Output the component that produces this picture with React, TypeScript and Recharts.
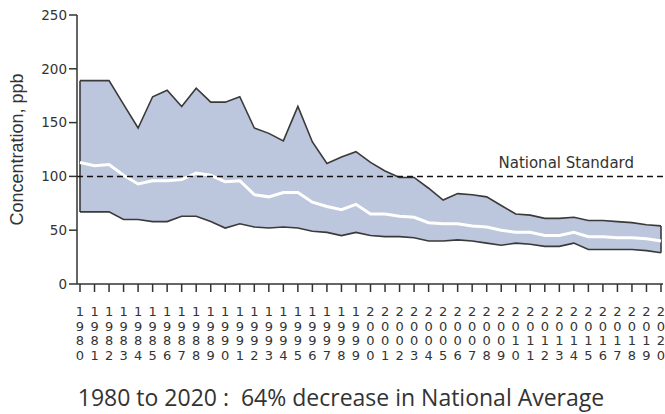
import {
  ComposedChart,
  Area,
  Line,
  XAxis,
  YAxis,
  ReferenceLine,
} from "recharts";

const years = [
  1980, 1981, 1982, 1983, 1984, 1985, 1986, 1987, 1988, 1989, 1990, 1991, 1992,
  1993, 1994, 1995, 1996, 1997, 1998, 1999, 2000, 2001, 2002, 2003, 2004, 2005,
  2006, 2007, 2008, 2009, 2010, 2011, 2012, 2013, 2014, 2015, 2016, 2017, 2018,
  2019, 2020,
];

// 90th percentile (top of band)
const high = [
  189, 189, 189, 167, 145, 174, 180, 165, 182, 169, 169, 174, 145, 140, 133, 165,
  132, 112, 118, 123, 113, 105, 99, 99, 89, 78, 84, 83, 81, 73, 65, 64, 61, 61,
  62, 59, 59, 58, 57, 55, 54,
];

// 10th percentile (bottom of band)
const low = [
  67, 67, 67, 60, 60, 58, 58, 63, 63, 58, 52, 56, 53, 52, 53, 52, 49, 48, 45, 48,
  45, 44, 44, 43, 40, 40, 41, 40, 38, 36, 38, 37, 35, 35, 38, 32, 32, 32, 32, 31,
  29,
];

// national average
const mean = [
  113, 110, 111, 101, 93, 96, 96, 97, 103, 101, 95, 96, 83, 81, 85, 85, 76, 72,
  69, 74, 65, 65, 63, 62, 57, 56, 56, 54, 53, 50, 48, 48, 45, 45, 48, 44, 44, 43,
  43, 42, 40,
];

const yTicks = [0, 50, 100, 150, 200, 250];
const standard = 100;

const data = years.map((year, i) => ({
  year,
  band: [low[i], high[i]],
  high: high[i],
  low: low[i],
  mean: mean[i],
}));

const TICK_FONT = "'DejaVu Sans', Verdana, sans-serif";

const YearTick = (props: any) => {
  const { x, y, payload } = props;
  const digits = String(payload.value).split("");
  return (
    <g>
      {digits.map((d, i) => (
        <text
          key={i}
          x={x}
          y={y + 22 + i * 14.7}
          textAnchor="middle"
          fontSize={13}
          fontFamily={TICK_FONT}
          fill="#333"
        >
          {d}
        </text>
      ))}
    </g>
  );
};

const StandardLabel = (props: any) => {
  const { viewBox } = props;
  return (
    <text
      x={viewBox.x + viewBox.width - 29}
      y={viewBox.y - 8}
      textAnchor="end"
      fontSize={15}
      fontFamily={TICK_FONT}
      fill="#333"
    >
      National Standard
    </text>
  );
};

export default function App() {
  const first = data[0];
  const last = data[data.length - 1];
  return (
    <div
      style={{
        position: "absolute",
        left: 0,
        top: 0,
        width: 665,
        height: 414,
        background: "#fff",
      }}
    >
      <ComposedChart
        width={665}
        height={380}
        data={data}
        margin={{ top: 15, right: 2, bottom: 0, left: 0 }}
      >
        <XAxis
          dataKey="year"
          type="number"
          domain={[1980, 2020]}
          ticks={years}
          interval={0}
          padding={{ left: 3, right: 2 }}
          tickSize={8}
          height={96}
          stroke="#333"
          tickLine={{ stroke: "#333", strokeWidth: 1.5 }}
          axisLine={{ stroke: "#333", strokeWidth: 1.5 }}
          tick={<YearTick />}
        />
        <XAxis
          xAxisId="top"
          orientation="top"
          dataKey="year"
          type="number"
          domain={[1980, 2020]}
          height={0}
          tick={false}
          tickLine={false}
          axisLine={{ stroke: "#555", strokeWidth: 1.2 }}
        />
        <YAxis
          domain={[0, 250]}
          ticks={yTicks}
          width={77}
          tickSize={8}
          tickMargin={2}
          stroke="#333"
          tickLine={{ stroke: "#333", strokeWidth: 1.5 }}
          axisLine={{ stroke: "#333", strokeWidth: 1.5 }}
          tick={{ fontSize: 13.5, fontFamily: TICK_FONT, fill: "#333" }}
          label={{
            value: "Concentration, ppb",
            angle: -90,
            position: "insideLeft",
            offset: 17,
            style: {
              fontSize: 18,
              fontFamily: "'Liberation Sans', Arial, sans-serif",
              fill: "#333",
              textAnchor: "middle",
            },
          }}
        />
        <YAxis
          yAxisId="right"
          orientation="right"
          domain={[0, 250]}
          width={0}
          tick={false}
          tickLine={false}
          axisLine={{ stroke: "#555", strokeWidth: 1.2 }}
        />
        <Area
          dataKey="band"
          type="linear"
          fill="#bcc6dc"
          fillOpacity={1}
          stroke="none"
          isAnimationActive={false}
        />
        <Line
          dataKey="high"
          type="linear"
          stroke="#3a3a3a"
          strokeWidth={1.6}
          dot={false}
          activeDot={false}
          isAnimationActive={false}
        />
        <Line
          dataKey="low"
          type="linear"
          stroke="#3a3a3a"
          strokeWidth={1.6}
          dot={false}
          activeDot={false}
          isAnimationActive={false}
        />
        <ReferenceLine
          segment={[
            { x: first.year, y: first.low },
            { x: first.year, y: first.high },
          ]}
          stroke="#3a3a3a"
          strokeWidth={1.6}
        />
        <ReferenceLine
          segment={[
            { x: last.year, y: last.low },
            { x: last.year, y: last.high },
          ]}
          stroke="#3a3a3a"
          strokeWidth={1.6}
        />
        <Line
          dataKey="mean"
          type="linear"
          stroke="#ffffff"
          strokeWidth={3}
          dot={false}
          activeDot={false}
          isAnimationActive={false}
        />
        <ReferenceLine
          y={standard}
          stroke="#111"
          strokeWidth={1.5}
          strokeDasharray="6 4"
          label={<StandardLabel />}
        />
      </ComposedChart>
      <div
        style={{
          position: "absolute",
          left: 0,
          top: 381,
          width: 682,
          textAlign: "center",
          fontFamily: "'Open Sans', 'Segoe UI', sans-serif",
          fontSize: 23,
          color: "#333",
          whiteSpace: "pre",
        }}
      >
        {"1980 to 2020 :  64% decrease in National Average"}
      </div>
    </div>
  );
}
